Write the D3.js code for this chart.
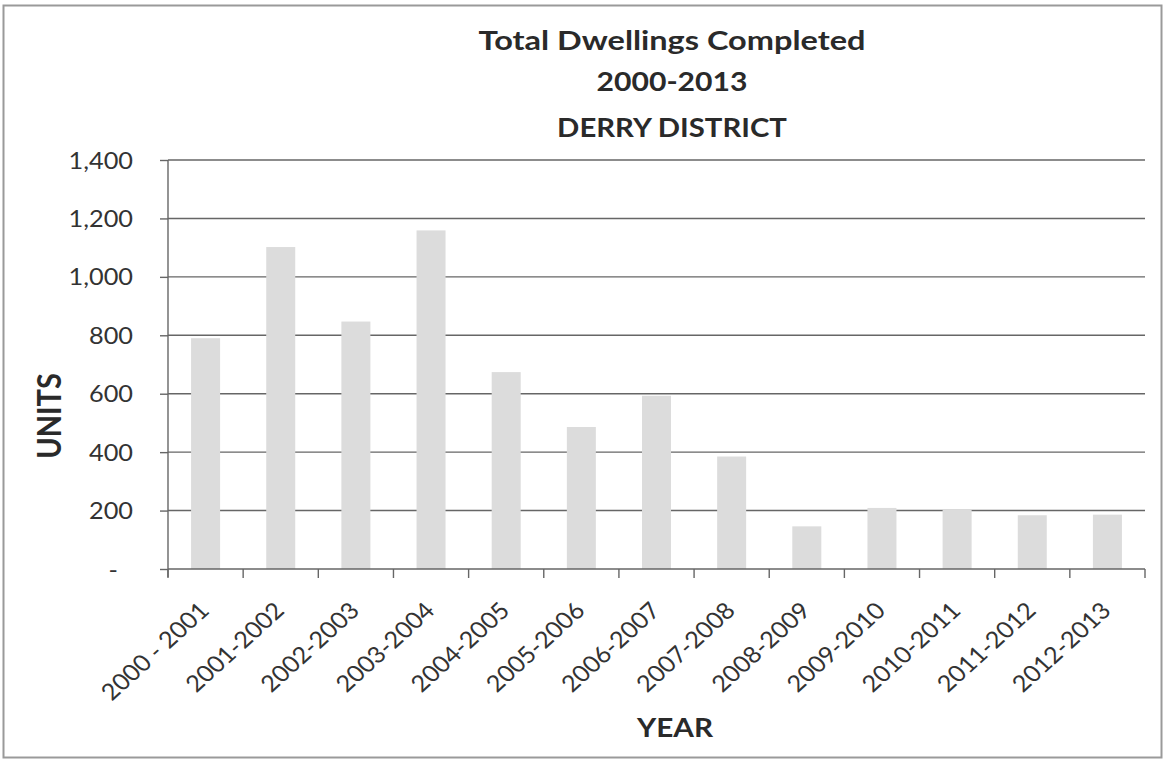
<!DOCTYPE html>
<html>
<head>
<meta charset="utf-8">
<script src="https://cdn.jsdelivr.net/npm/d3@7"></script>
<style>
  html, body { margin: 0; padding: 0; background: #fff; }
  svg { display: block; }
  text { font-family: Lato, "Open Sans", sans-serif; }
</style>
</head>
<body>
<svg id="chart" width="1164" height="760"></svg>
<script>
// ---- data ----
const categories = ["2000 - 2001","2001-2002","2002-2003","2003-2004","2004-2005","2005-2006","2006-2007","2007-2008","2008-2009","2009-2010","2010-2011","2011-2012","2012-2013"];
const units = [790, 1102, 847, 1159, 674, 486, 593, 385, 146, 209, 203, 184, 186];
const yTickValues = [0, 200, 400, 600, 800, 1000, 1200, 1400];
const yTickLabels = ["-", "200", "400", "600", "800", "1,000", "1,200", "1,400"];
const titleLines = ["Total Dwellings Completed", "2000-2013", "DERRY DISTRICT"];
const yAxisTitle = "UNITS";
const xAxisTitle = "YEAR";

// ---- layout ----
const W = 1164, H = 760;
const SX = 1.1; // horizontal stretch of the scanned text
const plot = { left: 168, right: 1145, top: 160, bottom: 569 };
const textColor = "#333";
const lineColor = "#666";

const svg = d3.select("#chart");
svg.append("rect").attr("x", 0).attr("y", 0).attr("width", W).attr("height", H).attr("fill", "#fff");
// outer border
svg.append("rect").attr("x", 3.5).attr("y", 5.5).attr("width", 1158).attr("height", 752)
  .attr("fill", "none").attr("stroke", "#9a9a9a").attr("stroke-width", 2);

const x = d3.scaleBand().domain(categories)
  .range([plot.left, plot.right]).paddingInner(0.614).paddingOuter(0.307);
const y = d3.scaleLinear().domain([0, 1400]).range([plot.bottom, plot.top]);

// gridlines
svg.append("g").selectAll("line").data(yTickValues.filter(v => v > 0)).join("line")
  .attr("x1", plot.left).attr("x2", plot.right)
  .attr("y1", d => y(d)).attr("y2", d => y(d))
  .attr("stroke", lineColor).attr("stroke-width", 1.4);

// bars
svg.append("g").selectAll("rect").data(units).join("rect")
  .attr("x", (d, i) => x(categories[i]))
  .attr("width", x.bandwidth())
  .attr("y", d => y(d))
  .attr("height", d => y(0) - y(d))
  .attr("fill", "#dcdcdc");

// y axis
const yAxis = d3.axisLeft(y).tickValues(yTickValues).tickSize(8)
  .tickFormat((d, i) => yTickLabels[i]);
const gy = svg.append("g").attr("transform", `translate(${plot.left},0)`).call(yAxis);
gy.select(".domain").remove();
gy.append("line").attr("x1", 0).attr("x2", 0).attr("y1", plot.top).attr("y2", plot.bottom + 8)
  .attr("stroke", lineColor).attr("stroke-width", 1.4);
gy.selectAll(".tick line").attr("stroke", lineColor).attr("stroke-width", 1.4);
gy.selectAll(".tick text")
  .attr("fill", textColor).attr("font-size", 23)
  .attr("x", d => d === 0 ? -50 / SX : -35 / SX)
  .attr("dy", "0.35em")
  .attr("transform", `scale(${SX},1)`)
  .style("font-family", "Lato, sans-serif");

// x axis
const edgeOffset = (x.step() - x.bandwidth()) / 2;
const boundaries = categories.map(c => x(c) - edgeOffset).concat([plot.right]);
const gx = svg.append("g");
gx.append("line").attr("x1", plot.left).attr("x2", plot.right)
  .attr("y1", plot.bottom).attr("y2", plot.bottom)
  .attr("stroke", lineColor).attr("stroke-width", 1.4);
gx.selectAll("line.tk").data(boundaries).join("line").attr("class", "tk")
  .attr("x1", d => d).attr("x2", d => d)
  .attr("y1", plot.bottom).attr("y2", plot.bottom + 9)
  .attr("stroke", lineColor).attr("stroke-width", 1.4);
gx.selectAll("text").data(categories).join("text")
  .attr("transform", d => `translate(${x(d) + x.bandwidth() / 2 + 5},612) scale(${SX},1) rotate(-45)`)
  .attr("text-anchor", "end")
  .attr("font-size", 23)
  .attr("fill", textColor)
  .text(d => d);

// titles (stretched to the scanned title's line widths)
const tBase = [50, 91, 137];
const tWidth = [387, 151, 230];
svg.append("g").selectAll("text").data(titleLines).join("text")
  .attr("text-anchor", "middle")
  .attr("font-size", 26).attr("font-weight", "bold")
  .attr("fill", "#2a2a2a")
  .text(d => d)
  .attr("transform", function (d, i) {
    const w = this.getComputedTextLength();
    return `translate(672,${tBase[i]}) scale(${tWidth[i] / w},1)`;
  });

svg.append("text")
  .attr("transform", `translate(61,416) scale(${SX},1) rotate(-90)`)
  .attr("text-anchor", "middle")
  .attr("font-size", 29).attr("font-weight", "bold")
  .attr("fill", "#2a2a2a")
  .text(yAxisTitle);

svg.append("text")
  .attr("transform", `translate(675,737) scale(${SX},1)`)
  .attr("text-anchor", "middle")
  .attr("font-size", 27).attr("font-weight", "bold")
  .attr("fill", "#2a2a2a")
  .text(xAxisTitle);
</script>
</body>
</html>
